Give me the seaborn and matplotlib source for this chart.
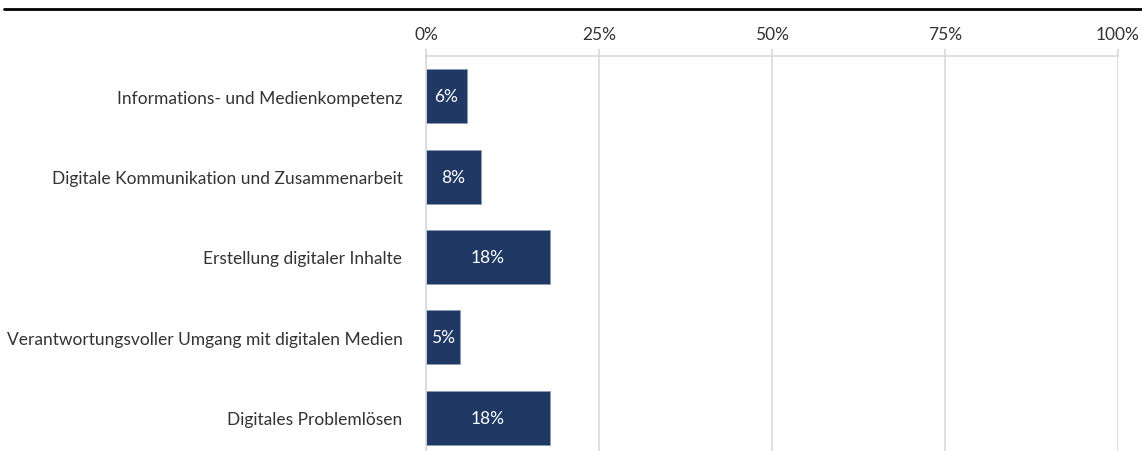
import pandas as pd
import matplotlib.pyplot as plt
import seaborn as sns
from matplotlib.lines import Line2D

# Chart data
categories = [
    "Informations- und Medienkompetenz",
    "Digitale Kommunikation und Zusammenarbeit",
    "Erstellung digitaler Inhalte",
    "Verantwortungsvoller Umgang mit digitalen Medien",
    "Digitales Problemlösen",
]
shares = [5.9, 7.9, 17.9, 4.9, 17.9]
xticks = [0, 25, 50, 75, 100]
xtick_labels = ["0%", "25%", "50%", "75%", "100%"]

BAR_COLOR = "#203864"
TEXT_COLOR = "#333333"
GRID_COLOR = "#d9d9d9"
FS = 12.5

df = pd.DataFrame({"Kompetenz": categories, "Anteil": shares})

sns.set_style("white")
plt.rcParams["font.family"] = ["Lato", "DejaVu Sans"]

fig = plt.figure(figsize=(11.42, 4.52), dpi=100)
# axes placed in pixel terms: left 426, right 1118, top 57, bottom ~459 (below image)
W, H = 1142, 452
ax = fig.add_axes([426 / W, 1 - 459 / H, (1118 - 426) / W, (459 - 57) / H])

sns.barplot(data=df, x="Anteil", y="Kompetenz", orient="h", color=BAR_COLOR,
            width=0.67, edgecolor="#8a9bb8", linewidth=0.6, saturation=1, ax=ax)

ax.set_xlim(0, 100)
ax.set_ylim(len(categories) - 0.5, -0.5)
ax.set_xticks(xticks)
ax.set_xticklabels(xtick_labels)
ax.xaxis.tick_top()
ax.tick_params(axis="x", length=5, color=GRID_COLOR, width=1.2, pad=5,
               labelsize=FS, labelcolor=TEXT_COLOR)
ax.tick_params(axis="y", length=0, pad=17, labelsize=FS, labelcolor=TEXT_COLOR)
ax.set_xlabel("")
ax.set_ylabel("")

ax.grid(axis="x", color=GRID_COLOR, linewidth=1.2)
ax.set_axisbelow(True)
for side in ["bottom", "right"]:
    ax.spines[side].set_visible(False)
for side in ["top", "left"]:
    ax.spines[side].set_color(GRID_COLOR)
    ax.spines[side].set_linewidth(1.2)

# value labels inside bars
for i, v in enumerate(shares):
    ax.text(v / 2, i, f"{v:.0f}%", ha="center", va="center", color="white", fontsize=FS)

# black rule on top of figure
fig.add_artist(Line2D([4 / W, 1], [1 - 10 / H, 1 - 10 / H], color="black", linewidth=2))

fig.savefig("out.png", dpi=100)
